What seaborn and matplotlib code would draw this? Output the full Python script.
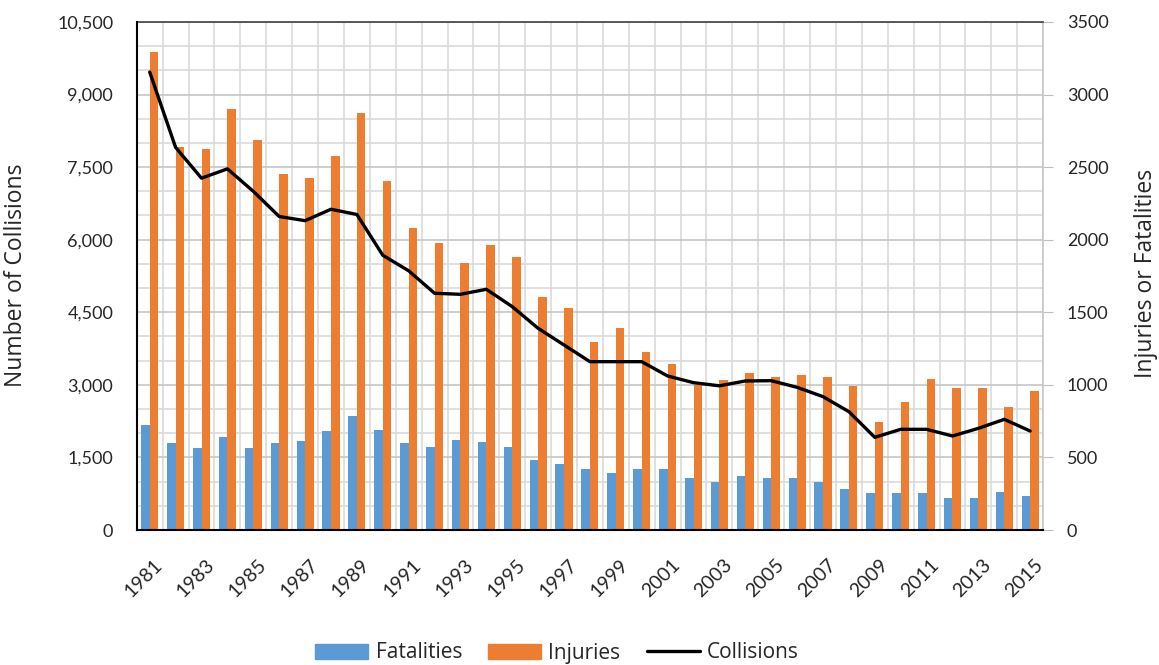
import matplotlib
matplotlib.use("Agg")
import matplotlib.pyplot as plt
import matplotlib.transforms as mtransforms
import numpy as np
import pandas as pd
import seaborn as sns
from matplotlib.lines import Line2D
from matplotlib.patches import Patch
from matplotlib.ticker import FuncFormatter, MultipleLocator, FixedLocator

years = list(range(1981, 2016))
fatalities = [721, 600, 567, 643, 567, 600, 614, 679, 783, 690, 600, 570,
              620, 604, 574, 482, 452, 420, 390, 420, 420, 361, 328,
              374, 361, 361, 328, 282, 253, 253, 253, 223, 223, 264, 236]
injuries = [3290, 2640, 2624, 2900, 2686, 2455, 2424, 2576, 2874, 2407, 2083, 1975,
            1837, 1961, 1883, 1608, 1532, 1298, 1394, 1224, 1146, 999, 1034,
            1084, 1052, 1068, 1052, 992, 746, 884, 1038, 976, 976, 850, 960]
collisions = [9464, 7907, 7271, 7464, 7000, 6479, 6393, 6629, 6521, 5679, 5357, 4893,
              4871, 4975, 4616, 4168, 3824, 3479, 3479, 3479, 3183, 3045, 2980,
              3080, 3086, 2949, 2756, 2446, 1915, 2081, 2081, 1943, 2101, 2287, 2046]

BLUE = "#5B9BD5"
ORANGE = "#ED7D31"
TEXT = "#262626"

sns.set_style("white")
plt.rcParams["font.family"] = ["Lato", "DejaVu Sans"]

bars = pd.DataFrame({
    "Year": [str(y) for y in years] * 2,
    "Count": fatalities + injuries,
    "Series": ["Fatalities"] * len(years) + ["Injuries"] * len(years),
})

fig, ax = plt.subplots(figsize=(11.59, 6.65), dpi=100)
fig.subplots_adjust(left=0.118, right=0.9, bottom=0.203, top=0.967)

# bars on the primary axes (right-hand scale), so the grid sits behind them
sns.barplot(data=bars, x="Year", y="Count", hue="Series",
            palette=[BLUE, ORANGE], width=0.66, saturation=1,
            linewidth=0, legend=False, ax=ax)
ax.set_ylim(0, 3500)
ax.set_xlim(-0.5, len(years) - 0.5)
ax.yaxis.set_major_locator(MultipleLocator(500))
ax.yaxis.set_minor_locator(MultipleLocator(500 / 3))
ax.xaxis.set_minor_locator(FixedLocator(np.arange(-0.5, len(years), 1)))
ax.grid(which="major", axis="y", color="#c6c6c6", lw=1.2)
ax.grid(which="minor", axis="both", color="#dadada", lw=1.2)
ax.set_axisbelow(True)
ax.set_xlabel("")
ax.set_ylabel("")

ax2 = ax.twinx()
sns.lineplot(x=np.arange(len(years)), y=collisions, color="black", lw=2.4, ax=ax2)
ax2.set_ylim(0, 10500)
ax2.yaxis.set_major_locator(MultipleLocator(1500))
ax2.yaxis.set_major_formatter(FuncFormatter(lambda v, p: f"{v:,.0f}"))

# swap sides: collisions on the left, injuries/fatalities on the right
ax.yaxis.tick_right()
ax2.yaxis.tick_left()
ax.tick_params(axis="y", which="major", right=True, length=7, color="#bfbfbf",
               pad=10, labelsize=13, labelcolor=TEXT)
ax.tick_params(axis="y", which="minor", right=False, left=False)
ax.tick_params(axis="x", which="both", bottom=False, length=0, pad=0)
ax2.tick_params(axis="y", length=0, pad=17, labelsize=13, labelcolor=TEXT)

ax.set_xticks(range(0, len(years), 2))
ax.set_xticklabels([str(y) for y in years[::2]], rotation=45, ha="right",
                   va="top", rotation_mode="anchor", fontsize=14, color=TEXT)
shift = mtransforms.ScaledTranslation(4 / 100, -26 / 100, fig.dpi_scale_trans)
for lab in ax.get_xticklabels():
    lab.set_transform(lab.get_transform() + shift)

for a in (ax, ax2):
    for s in a.spines.values():
        s.set_visible(False)
ax.spines["bottom"].set_visible(True)
ax.spines["bottom"].set_color("black")
ax.spines["bottom"].set_linewidth(1.5)
ax.spines["top"].set_visible(True)
ax.spines["top"].set_color("#404040")
ax.spines["top"].set_linewidth(1.2)
ax.spines["right"].set_visible(True)
ax.spines["right"].set_color("#c6c6c6")
ax.spines["right"].set_linewidth(1.2)
ax2.spines["left"].set_visible(True)
ax2.spines["left"].set_color("black")
ax2.spines["left"].set_linewidth(1.5)

fig.text(16 / 1159, 1 - 275 / 665, "Number of Collisions", rotation=90,
         ha="center", va="center", fontsize=16.5, color=TEXT, family="Open Sans")
fig.text(1146 / 1159, 1 - 273 / 665, "Injuries or Fatalities", rotation=90,
         ha="center", va="center", fontsize=16.5, color=TEXT, family="Open Sans")

handles = [Patch(color=BLUE, label="Fatalities"),
           Patch(color=ORANGE, label="Injuries"),
           Line2D([], [], color="black", lw=2.4, label="Collisions")]
fig.legend(handles=handles, loc="center", bbox_to_anchor=(557 / 1159, 1 - 653 / 665),
           ncol=3, frameon=False, prop={"family": "Open Sans", "size": 15},
           handlelength=2.55, handleheight=0.72, columnspacing=1.25,
           handletextpad=0.35, labelcolor=TEXT)

fig.savefig("out.png", dpi=100)
